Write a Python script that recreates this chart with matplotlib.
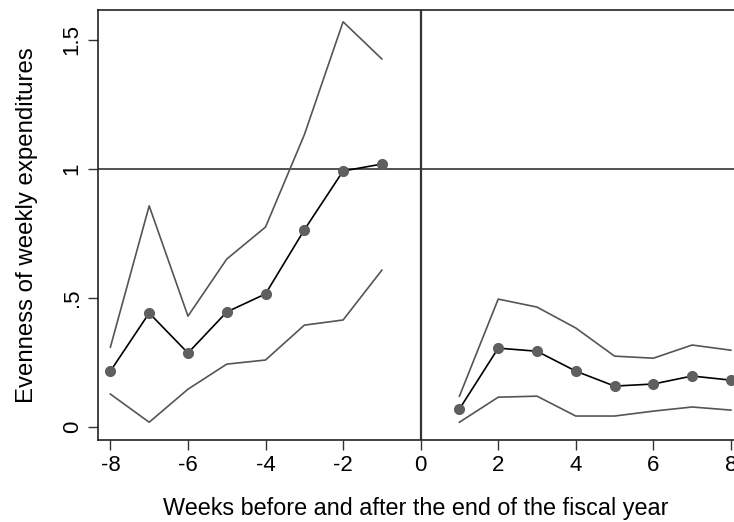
import numpy as np
import matplotlib.pyplot as plt

plt.rcParams['font.family'] = ['Liberation Sans', 'DejaVu Sans']

# weeks before / after end of fiscal year
weeks_pre = [-8, -7, -6, -5, -4, -3, -2, -1]
weeks_post = [1, 2, 3, 4, 5, 6, 7, 8]

est_pre = [0.217, 0.442, 0.287, 0.446, 0.516, 0.764, 0.992, 1.019]
hi_pre = [0.310, 0.857, 0.430, 0.651, 0.775, 1.132, 1.570, 1.426]
lo_pre = [0.128, 0.019, 0.147, 0.244, 0.260, 0.395, 0.415, 0.608]

est_post = [0.070, 0.306, 0.294, 0.217, 0.159, 0.167, 0.198, 0.182]
hi_post = [0.120, 0.496, 0.465, 0.384, 0.275, 0.267, 0.318, 0.298]
lo_post = [0.019, 0.116, 0.120, 0.043, 0.043, 0.062, 0.078, 0.066]

xticks = [-8, -6, -4, -2, 0, 2, 4, 6, 8]
yticks = [0, 0.5, 1, 1.5]
ylabels = ['0', '.5', '1', '1.5']

fig = plt.figure(figsize=(7.34, 5.22), dpi=100)
ax = fig.add_axes([0.1335, 0.157, 0.8665, 0.824])

ax.axhline(1, color='#333333', lw=1.2, zorder=1)
ax.axvline(0, color='#333333', lw=1.6, zorder=1)

for x, est, hi, lo in [(weeks_pre, est_pre, hi_pre, lo_pre),
                       (weeks_post, est_post, hi_post, lo_post)]:
    ax.plot(x, hi, color='#555555', lw=1.2, zorder=2)
    ax.plot(x, lo, color='#555555', lw=1.2, zorder=2)
    ax.plot(x, est, color='black', lw=1.2, marker='o', ms=7,
            mfc='#5f5f5f', mec='#5f5f5f', zorder=3)

ax.set_xlim(-8.32, 8.08)
ax.set_ylim(-0.05, 1.616)
ax.set_xticks(xticks)
ax.set_xticklabels([str(t) for t in xticks])
ax.set_yticks(yticks)
ax.set_yticklabels(ylabels, rotation=90, va='center')
ax.tick_params(length=7, width=1, labelsize=16, color='#333333', pad=4)

ax.spines['right'].set_visible(False)
for s in ['left', 'bottom', 'top']:
    ax.spines[s].set_color('#222222')
    ax.spines[s].set_linewidth(1.2)

ax.set_xlabel('Weeks before and after the end of the fiscal year', fontsize=16.8, labelpad=15)
ax.set_ylabel('Evenness of weekly expenditures', fontsize=17.3, labelpad=17)

fig.savefig('out.png', dpi=100)
